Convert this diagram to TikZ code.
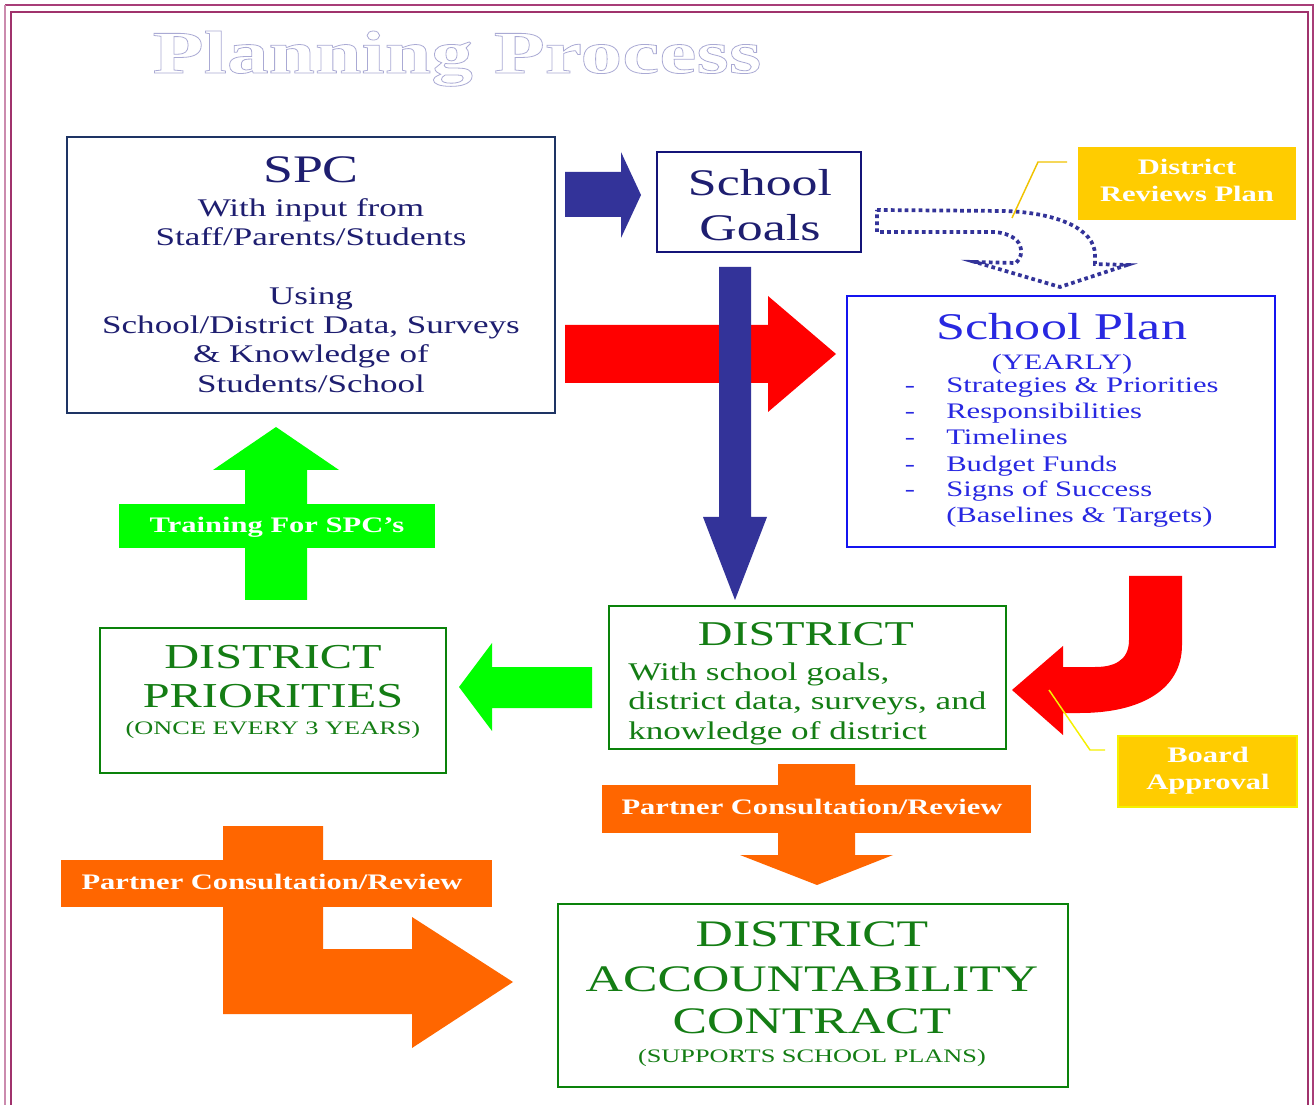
\documentclass[tikz,border=0pt]{standalone}
\usepackage{fontspec}
\setmainfont[FakeStretch=1.38]{Liberation Serif}
\usetikzlibrary{fit,calc}
\definecolor{frameA}{RGB}{168,62,120}
\definecolor{frameB}{RGB}{160,50,108}
\definecolor{lav}{RGB}{170,170,212}
\definecolor{navyT}{RGB}{30,30,112}
\definecolor{spcB}{RGB}{30,52,100}
\definecolor{goalB}{RGB}{20,20,120}
\definecolor{planB}{RGB}{20,20,240}
\definecolor{planT}{RGB}{40,40,225}
\definecolor{grnB}{RGB}{10,130,10}
\definecolor{grnT}{RGB}{20,125,20}
\definecolor{navyA}{RGB}{51,51,153}
\definecolor{redA}{RGB}{255,0,0}
\definecolor{grnA}{RGB}{0,255,0}
\definecolor{orA}{RGB}{255,102,0}
\definecolor{gold}{RGB}{255,204,0}
\definecolor{goldL}{RGB}{240,195,0}
\definecolor{yelL}{RGB}{245,240,0}
\newcommand{\outlinetext}[1]{\special{pdf:literal direct q 1 Tr 0.6 w}#1\special{pdf:literal direct Q}}
\begin{document}
\begin{tikzpicture}[x=0.75pt,y=-0.75pt,
  tx/.style={anchor=base,inner sep=0pt},
  txl/.style={anchor=base west,inner sep=0pt},
  box/.style={draw,inner sep=0pt,fill=white},
  lab/.style={inner sep=0pt},
  labt/.style={tx,text=white,font=\bfseries\fontsize{16.6}{18}\selectfont},
  spcS/.style={tx,text=navyT,font=\fontsize{19.05}{21}\selectfont},
  planS/.style={txl,text=planT,font=\fontsize{16.65}{18}\selectfont},
  distS/.style={txl,text=grnT,font=\fontsize{19.1}{21}\selectfont},
  titleS/.style={tx,font=\bfseries\fontsize{45.4}{48}\selectfont},
  dotted arrow/.style={draw=navyA,line width=2.8pt,dash pattern=on 2.8pt off 2.4pt},
]
\useasboundingbox (0,0) rectangle (1315,1105);
\fill[white] (0,0) rectangle (1315,1105);
% frame
\draw[frameA,line width=1.5pt] (5,5) -- (1313,5) -- (1313,1120);
\draw[frameA!60,line width=1.5pt] (5,5) -- (5,1120);
\draw[frameB,line width=2.2pt] (11,1120) -- (11,12) -- (1308,12) -- (1308,1120);
% title (outlined)
\node[titleS,text=lav] (title) at (457,73) {\outlinetext{Planning Process}};

% ---- block arrows ----
\fill[navyA] (565,172) -- (621,172) -- (621,152) -- (641,195) -- (621,238) -- (621,217) -- (565,217) -- cycle;
\fill[redA] (565,325) -- (768,325) -- (768,296) -- (836,354) -- (768,412) -- (768,383) -- (565,383) -- cycle;
\fill[navyA] (719,267) -- (751,267) -- (751,517) -- (767,517) -- (735,600) -- (703,517) -- (719,517) -- cycle;
\fill[grnA] (245,600) -- (245,470) -- (213,470) -- (276,427) -- (339,470) -- (307,470) -- (307,600) -- cycle;
\fill[grnA] (592,667) -- (492,667) -- (492,643) -- (459,687) -- (492,731) -- (492,708) -- (592,708) -- cycle;
\fill[orA] (778,764) -- (855,764) -- (855,855) -- (893,855) -- (817,885) -- (740,855) -- (778,855) -- cycle;
\fill[orA] (223,826) -- (323,826) -- (323,949) -- (412,949) -- (412,917) -- (513,982) -- (412,1048) -- (412,1014) -- (223,1014) -- cycle;
% red U-turn arrow
\fill[redA] (1182,576) -- (1182,645) .. controls (1182,690) and (1140,713) .. (1080,713)
  -- (1063,713) -- (1063,735) -- (1012,690) -- (1063,646) -- (1063,667) -- (1095,667)
  .. controls (1112,667) and (1129,662) .. (1129,640) -- (1129,576) -- cycle;
% dotted curved arrow
\draw[dotted arrow] (877,210) -- (1005,211) .. controls (1060,213) and (1095,230) .. (1095,255)
  -- (1095,264) -- (1127,265) -- (1060,287) -- (975,262) -- (1016,263)
  .. controls (1025,255) and (1025,235) .. (995,232) -- (877,232) -- cycle;

% ---- boxes ----
\node[box,draw=spcB,line width=1.9pt,fit={(67,137) (555,413)}] (spc) {};
\node[spcS,font=\fontsize{29.25}{31}\selectfont] (spc0) at (311,183) {SPC};
\node[spcS] (spc1) at (311,217) {With input from};
\node[spcS] (spc2) at (311,246) {Staff/Parents/Students};
\node[spcS] (spc3) at (311,305) {Using};
\node[spcS] (spc4) at (311,334) {School/District Data, Surveys};
\node[spcS] (spc5) at (311,363) {\& Knowledge of};
\node[spcS] (spc6) at (311,393) {Students/School};

\node[box,draw=goalB,line width=1.9pt,fit={(657,152) (861,252)}] (goals) {};
\node[tx,text=navyT,font=\fontsize{28.2}{30}\selectfont] (goals1) at (760,196) {School};
\node[tx,text=navyT,font=\fontsize{28.2}{30}\selectfont] (goals2) at (760,241) {Goals};

\node[box,draw=planB,line width=2.2pt,fit={(847,296) (1275,547)}] (plan) {};
\node[tx,text=planT,font=\fontsize{28.3}{30}\selectfont] (plan0) at (1062,340) {School Plan};
\node[tx,text=planT,font=\fontsize{16.5}{18}\selectfont] (plan1) at (1062,370) {(YEARLY)};
\foreach \yy/\t [count=\i] in {393/Strategies \& Priorities,418.5/Responsibilities,445/Timelines,471.5/Budget Funds,497/Signs of Success}{
  \node[tx,text=planT,font=\fontsize{16.65}{18}\selectfont] (pd\i) at (910,\yy) {-};
  \node[planS] (pl\i) at (946,\yy) {\t};
}
\node[planS] (pl6) at (946,522.5) {(Baselines \& Targets)};

\node[box,draw=grnB,line width=2.2pt,fit={(609,606) (1006,749)}] (dist) {};
\node[tx,text=grnT,font=\fontsize{26.1}{28}\selectfont] (dist0) at (806,645) {DISTRICT};
\node[distS] (dist1) at (628,681) {With school goals,};
\node[distS] (dist2) at (628,710) {district data, surveys, and};
\node[distS] (dist3) at (628,739) {knowledge of district};

\node[box,draw=grnB,line width=2.2pt,fit={(100,628) (446,773)}] (dp) {};
\node[tx,text=grnT,font=\fontsize{26.25}{28}\selectfont] (dp1) at (273,668) {DISTRICT};
\node[tx,text=grnT,font=\fontsize{26.25}{28}\selectfont] (dp2) at (273,707.5) {PRIORITIES};
\node[tx,text=grnT,font=\fontsize{14.3}{16}\selectfont] (dp3) at (273,734) {(ONCE EVERY 3 YEARS)};

\node[box,draw=grnB,line width=2.2pt,fit={(558,904) (1068,1087)}] (dac) {};
\node[tx,text=grnT,font=\fontsize{28.1}{30}\selectfont] (dac1) at (812,946) {DISTRICT};
\node[tx,text=grnT,font=\fontsize{28.1}{30}\selectfont] (dac2) at (812,991) {ACCOUNTABILITY};
\node[tx,text=grnT,font=\fontsize{28.1}{30}\selectfont] (dac3) at (812,1033.5) {CONTRACT};
\node[tx,text=grnT,font=\fontsize{14.3}{16}\selectfont] (dac4) at (812,1062) {(SUPPORTS SCHOOL PLANS)};

% ---- labels ----
\node[lab,fill=gold,fit={(1078,147) (1296,220)}] (drp) {};
\node[labt] (drp1) at (1187,175) {District};
\node[labt] (drp2) at (1187,201.5) {Reviews Plan};
\coordinate (drpA) at (1012,218);
\coordinate (drpB) at (1038,162);
\coordinate (drpC) at (1067,162);
\draw[goldL,line width=1.1pt] (drpA) -- (drpB) -- (drpC);

\node[lab,fill=gold,draw=yelL,line width=1.5pt,fit={(1118,736) (1297,807)}] (board) {};
\node[labt] (board1) at (1208,762.5) {Board};
\node[labt] (board2) at (1208,789) {Approval};
\coordinate (bdA) at (1049,690);
\coordinate (bdB) at (1090,750);
\coordinate (bdC) at (1105,750);
\draw[yelL,line width=1.1pt] (bdA) -- (bdB) -- (bdC);

\node[lab,fill=grnA,fit={(119,504) (435,548)}] (train) {};
\node[labt] (train1) at (277,533) {Training For SPC’s};

\node[lab,fill=orA,fit={(602,785) (1031,833)}] (pc1) {};
\node[labt] (pc1t) at (812,814) {Partner Consultation/Review};
\node[lab,fill=orA,fit={(61,860) (492,907)}] (pc2) {};
\node[labt] (pc2t) at (272,889) {Partner Consultation/Review};
\end{tikzpicture}
\end{document}
